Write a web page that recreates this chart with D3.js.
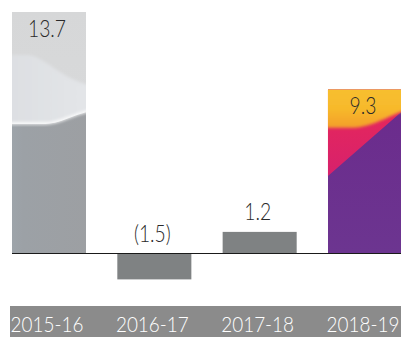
<!DOCTYPE html>
<html>
<head>
<meta charset="utf-8">
<script src="https://cdn.jsdelivr.net/npm/d3@7"></script>
<style>
  html, body { margin: 0; padding: 0; background: #fff; }
  svg { display: block; }
</style>
</head>
<body>
<script>
// Net result by financial year
const categories = ["2015-16", "2016-17", "2017-18", "2018-19"];
const values = [13.7, -1.5, 1.2, 9.3];
const valueLabels = ["13.7", "(1.5)", "1.2", "9.3"];

const W = 401, H = 337;
const svg = d3.select("body").append("svg")
  .attr("width", W).attr("height", H);

const x = d3.scaleBand()
  .domain(categories)
  .range([12, 402])
  .paddingInner(0.297)
  .paddingOuter(0);

const y = d3.scaleLinear()
  .domain([0, d3.max(values)])
  .range([253, 12]);

const defs = svg.append("defs");

function linGrad(id, stops, horizontal) {
  const g = defs.append("linearGradient").attr("id", id)
    .attr("x1", 0).attr("y1", 0)
    .attr("x2", horizontal ? 1 : 0).attr("y2", horizontal ? 0 : 1);
  stops.forEach(([o, c]) => g.append("stop").attr("offset", o).attr("stop-color", c));
}
linGrad("greyTop", [[0, "#d6d7d8"], [1, "#dbdcdd"]]);
linGrad("greyMid", [[0, "#dcdee1"], [1, "#e4e6e9"]], true);
linGrad("greyLow", [[0, "#9b9ea1"], [0.12, "#9ea5ab"], [0.25, "#9ca1a6"], [1, "#9d9fa2"]], true);
linGrad("gold", [[0, "#f7c42e"], [0.65, "#f7b92c"], [1, "#f39e2a"]]);
linGrad("pink", [[0, "#ee2a52"], [1, "#d4206f"]]);
linGrad("purple", [[0, "#6b2a8c"], [1, "#6c3590"]]);

defs.append("filter").attr("id", "soft")
  .attr("x", "-20%").attr("y", "-20%").attr("width", "140%").attr("height", "140%")
  .append("feGaussianBlur").attr("stdDeviation", 1.6);

const bars = categories.map((c, i) => {
  const v = values[i];
  const top = y(Math.max(0, v)), bot = y(Math.min(0, v));
  return { c, v, label: valueLabels[i], x0: x(c), w: x.bandwidth(), top, h: bot - top };
});

// Clip paths, one per bar
bars.forEach((b, i) => {
  defs.append("clipPath").attr("id", "clip" + i)
    .append("rect").attr("x", b.x0).attr("y", b.top).attr("width", b.w).attr("height", b.h);
});

const barG = svg.append("g");

// Plain bars
barG.selectAll("rect.plain")
  .data(bars.filter((b, i) => i === 1 || i === 2))
  .join("rect")
  .attr("class", "plain")
  .attr("x", d => d.x0).attr("y", d => d.top)
  .attr("width", d => d.w).attr("height", d => d.h)
  .attr("fill", "#7f8283");

// First bar: silver artwork
{
  const b = bars[0];
  const g = barG.append("g").attr("clip-path", "url(#clip0)");
  const X = u => b.x0 + u * b.w, Y = v => b.top + v * b.h;
  g.append("rect").attr("x", b.x0).attr("y", b.top).attr("width", b.w).attr("height", b.h)
    .attr("fill", "url(#greyTop)");
  g.append("path").attr("filter", "url(#soft)")
    .attr("d", `M${X(-0.2)},${Y(0.178)} L${X(0.2)},${Y(0.178)} C${X(0.45)},${Y(0.178)} ${X(0.7)},${Y(0.3)} ${X(1.2)},${Y(0.31)} L${X(1.2)},${Y(1.1)} L${X(-0.2)},${Y(1.1)} Z`)
    .attr("fill", "url(#greyMid)");
  const wave2 = `M${X(-0.2)},${Y(0.462)} L${X(0.45)},${Y(0.462)} C${X(0.7)},${Y(0.462)} ${X(0.78)},${Y(0.42)} ${X(1.2)},${Y(0.4)}`;
  g.append("path")
    .attr("d", wave2 + ` L${X(1.2)},${Y(1.1)} L${X(-0.2)},${Y(1.1)} Z`)
    .attr("fill", "url(#greyLow)");
  g.append("path").attr("d", wave2).attr("fill", "none")
    .attr("stroke", "#ffffff").attr("stroke-width", 2.2).attr("filter", "url(#soft)");
  g.append("path").attr("d", wave2).attr("fill", "none")
    .attr("stroke", "#f4f5f6").attr("stroke-width", 1.2);
}

// Last bar: warm artwork
{
  const b = bars[3];
  const g = barG.append("g").attr("clip-path", "url(#clip3)");
  const X = u => b.x0 + u * b.w, Y = v => b.top + v * b.h;
  g.append("rect").attr("x", b.x0).attr("y", b.top).attr("width", b.w).attr("height", b.h)
    .attr("fill", "url(#purple)");
  g.append("path")
    .attr("d", `M${X(-0.2)},${Y(-0.1)} L${X(1.2)},${Y(-0.1)} L${X(1.2)},${Y(0.1)} L${X(1)},${Y(0.135)} L${X(0)},${Y(0.53)} L${X(-0.2)},${Y(0.6)} Z`)
    .attr("fill", "url(#pink)");
  g.append("path").attr("filter", "url(#soft)")
    .attr("d", `M${X(-0.2)},${Y(-0.1)} L${X(1.2)},${Y(-0.1)} L${X(1.2)},${Y(0.1)} C${X(0.8)},${Y(0.16)} ${X(0.6)},${Y(0.235)} ${X(0.3)},${Y(0.235)} L${X(-0.2)},${Y(0.235)} Z`)
    .attr("fill", "url(#gold)");
}

// Value labels
const labelFont = { family: "Lato, 'Open Sans', sans-serif", size: 23, weight: 300 };
svg.append("g").selectAll("text")
  .data(bars)
  .join("text")
  .attr("transform", d => {
    const cx = d.x0 + d.w / 2 - 2;
    const inside = d.h > 60;
    const by = inside ? d.top + 25 : Math.min(d.top, y(0)) - 11.5;
    return `translate(${cx},${by}) scale(0.84,1)`;
  })
  .attr("text-anchor", "middle")
  .attr("font-family", labelFont.family)
  .attr("font-size", labelFont.size)
  .attr("font-weight", labelFont.weight)
  .attr("fill", "#2a2a2a")
  .text(d => d.label);

// Zero line
svg.append("line")
  .attr("x1", x.range()[0]).attr("x2", W)
  .attr("y1", y(0) + 0.5).attr("y2", y(0) + 0.5)
  .attr("stroke", "#1a1a1a").attr("stroke-width", 1.2);

// Category band with axis labels
const bandTop = 306;
svg.append("rect")
  .attr("x", x.range()[0] - 2).attr("y", bandTop)
  .attr("width", W - x.range()[0] + 2).attr("height", H - bandTop)
  .attr("fill", "#8b8b8b");

const axis = svg.append("g")
  .attr("transform", `translate(0,${bandTop})`)
  .call(d3.axisBottom(x).tickSize(0).tickPadding(10.5));
axis.select(".domain").remove();
axis.selectAll("text")
  .attr("font-family", labelFont.family)
  .attr("font-size", 22)
  .attr("font-weight", labelFont.weight)
  .attr("fill", "#ffffff")
  .attr("transform", "translate(-2,0) scale(0.86,1)");
</script>
</body>
</html>
